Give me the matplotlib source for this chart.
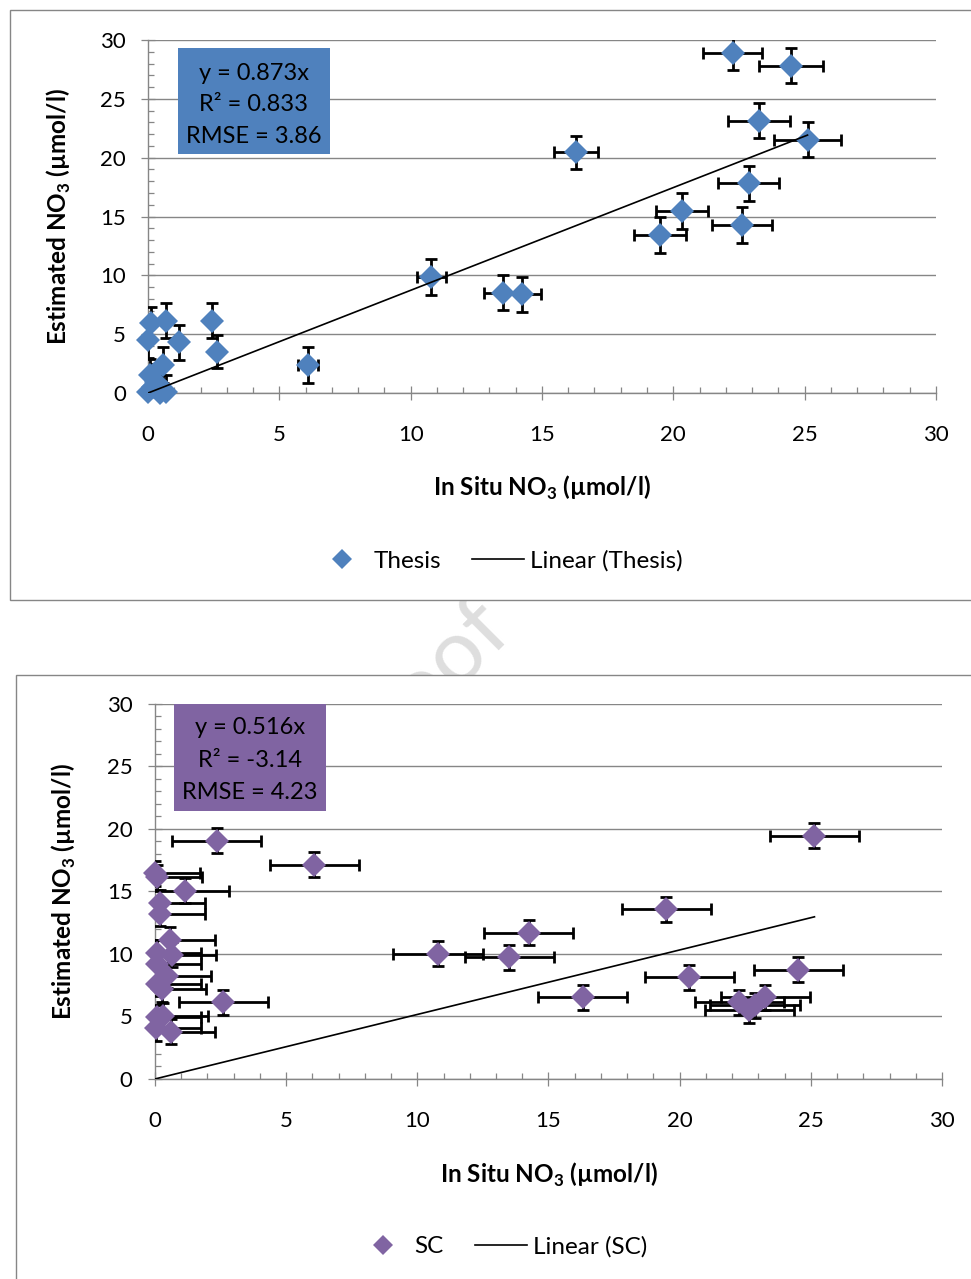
import matplotlib
matplotlib.use('Agg')
import matplotlib.pyplot as plt
import numpy as np
from matplotlib.patches import Rectangle
from matplotlib.lines import Line2D

plt.rcParams['font.family'] = ['Lato', 'DejaVu Sans']
plt.rcParams['mathtext.fontset'] = 'custom'
plt.rcParams['mathtext.rm'] = 'Lato'
plt.rcParams['mathtext.bf'] = 'Lato:bold'

# Thesis algorithm vs in situ NO3
thesis_x = [0.10, 0.69, 0.00, 1.18, 2.42, 2.61, 0.58, 6.10, 0.08, 0.30, 0.00, 0.45, 0.70, 0.20,
            10.79, 13.50, 14.23, 16.29, 19.49, 20.34, 22.26, 22.62, 22.87, 23.25, 24.48, 25.11]
thesis_y = [5.92, 6.15, 4.50, 4.30, 6.15, 3.50, 2.38, 2.38, 1.53, 0.96, 0.10, 0.02, 0.05, 0.50,
            9.86, 8.54, 8.40, 20.48, 13.44, 15.48, 28.87, 14.29, 17.82, 23.16, 27.82, 21.52]
thesis_xerr = [0.01, 0.03, 0.00, 0.06, 0.12, 0.13, 0.03, 0.38, 0.00, 0.02, 0.00, 0.02, 0.04, 0.01,
               0.55, 0.70, 0.73, 0.84, 1.00, 1.00, 1.13, 1.14, 1.16, 1.18, 1.22, 1.27]
thesis_yerr = [1.4, 1.5, 1.5, 1.5, 1.5, 1.4, 1.5, 1.5, 1.4, 1.5, 1.5, 1.5, 1.5, 1.5,
               1.5, 1.5, 1.5, 1.4, 1.5, 1.5, 1.4, 1.5, 1.5, 1.5, 1.5, 1.5]
thesis_slope = 0.873
thesis_stats = ['y = 0.873x', 'R² = 0.833', 'RMSE = 3.86']

# SC algorithm vs in situ NO3
sc_x = [2.35, 6.07, 0.00, 0.09, 1.14, 0.19, 0.19, 0.57, 0.06, 0.64, 0.06, 0.44, 0.06, 0.25,
        2.60, 0.06, 0.32, 0.04, 0.60,
        10.79, 13.51, 14.24, 16.30, 19.49, 20.37, 22.27, 22.66, 22.87, 23.26, 24.52, 25.14]
sc_y = [19.04, 17.12, 16.45, 16.13, 15.07, 14.10, 13.20, 11.12, 10.10, 9.92, 9.20, 8.24, 7.60, 7.17,
        6.13, 4.93, 5.07, 4.05, 3.79,
        10.00, 9.73, 11.71, 6.52, 13.58, 8.13, 6.15, 5.48, 5.90, 6.55, 8.74, 19.44]
sc_xerr = [1.7] * len(sc_x)
sc_yerr = [1.0] * len(sc_x)
sc_slope = 0.516
sc_stats = ['y = 0.516x', 'R² = -3.14', 'RMSE = 4.23']

GRAY = '#868686'
BLUE = '#4F81BD'
PURPLE = '#8064A2'

fig = plt.figure(figsize=(9.71, 12.79), dpi=100)
fig.patch.set_facecolor('white')

# faint watermark behind the chart frames
fig.text(513 / 971, 1 - 628 / 1279, 'Pre-proof', rotation=45, rotation_mode='anchor',
         ha='right', va='baseline', fontsize=64, color='#dedede', zorder=0)

# chart frames
fig.add_artist(Rectangle((0.0103, 0.5309), 1.0, 0.4613, transform=fig.transFigure,
                         fc='white', ec=GRAY, lw=1.0, zorder=1))
fig.add_artist(Rectangle((0.0165, -0.05), 1.0, 0.5222, transform=fig.transFigure,
                         fc='white', ec=GRAY, lw=1.0, zorder=1))


def draw_panel(rect, x, y, xerr, yerr, color, slope, stats, box, text_x, text_ys, ylab_x, xlab_y):
    ax = fig.add_axes(rect, zorder=2)
    ax.set_xlim(0, 30)
    ax.set_ylim(0, 30)
    ax.set_xticks(range(0, 31, 5))
    ax.set_xticks(range(0, 31), minor=True)
    ax.set_yticks(range(0, 31, 5))
    ax.set_yticks(range(0, 31), minor=True)
    for s in ['top', 'right']:
        ax.spines[s].set_visible(False)
    for s in ['left', 'bottom']:
        ax.spines[s].set_color(GRAY)
        ax.spines[s].set_linewidth(1.0)
    ax.grid(axis='y', which='major', color=GRAY, lw=1.0)
    ax.set_axisbelow(True)
    ax.tick_params(which='major', direction='inout', length=10, width=0.9, color=GRAY,
                   labelsize=16, labelcolor='black')
    ax.tick_params(axis='x', which='major', pad=18)
    ax.tick_params(axis='y', which='major', pad=11)
    ax.tick_params(which='minor', direction='in', length=4, width=0.9, color=GRAY)

    ax.errorbar(x, y, xerr=xerr, yerr=yerr, fmt='none', ecolor='black', elinewidth=2.0,
                capsize=4.2, capthick=2.0, zorder=3)
    ax.plot(x, y, 'D', color=color, markersize=12.5, markeredgewidth=0, zorder=4, clip_on=False)
    fx = np.array([0, max(x)])
    ax.plot(fx, slope * fx, color='black', lw=1.2, zorder=5)

    ax.add_patch(Rectangle((box[0], box[1]), box[2] - box[0], box[3] - box[1],
                           transform=ax.transAxes, fc=color, ec='none', zorder=6, clip_on=False))
    for s, ty in zip(stats, text_ys):
        ax.text(text_x, ty, s, transform=ax.transAxes, ha='center', va='baseline',
                fontsize=17, color='black', zorder=7)

    ax.set_xlabel(r'In Situ NO$_{\mathbf{3}}$ (µmol/l)', fontsize=17.5, fontweight='bold')
    ax.set_ylabel(r'Estimated NO$_{\mathbf{3}}$ (µmol/l)', fontsize=17.5, fontweight='bold')
    ax.xaxis.set_label_coords(0.5, xlab_y)
    ax.yaxis.set_label_coords(ylab_x, 0.5)
    return ax


draw_panel([0.1524, 0.6927, 0.8115, 0.2760], thesis_x, thesis_y, thesis_xerr, thesis_yerr,
           BLUE, thesis_slope, thesis_stats, (0.038, 0.677, 0.231, 0.977), 0.1345,
           [0.887, 0.799, 0.708], -0.095, -0.228)
draw_panel([0.1596, 0.1564, 0.8105, 0.2932], sc_x, sc_y, sc_xerr, sc_yerr,
           PURPLE, sc_slope, sc_stats, (0.0241, 0.7147, 0.2173, 1.0), 0.1207,
           [0.920, 0.832, 0.7467], -0.098, -0.218)

# legends
for color, names, pos in [(BLUE, ['Thesis', 'Linear (Thesis)'], (0.514, 0.5615)),
                          (PURPLE, ['SC', 'Linear (SC)'], (0.517, 0.0255))]:
    handles = [Line2D([], [], marker='D', ls='none', color=color, markersize=10, markeredgewidth=0),
               Line2D([], [], color='black', lw=1.2)]
    fig.legend(handles, names, loc='center', bbox_to_anchor=pos, ncol=2, frameon=False,
               fontsize=17.5, handlelength=2.14, handletextpad=0.22, columnspacing=1.3)

plt.savefig('out.png', dpi=100)
